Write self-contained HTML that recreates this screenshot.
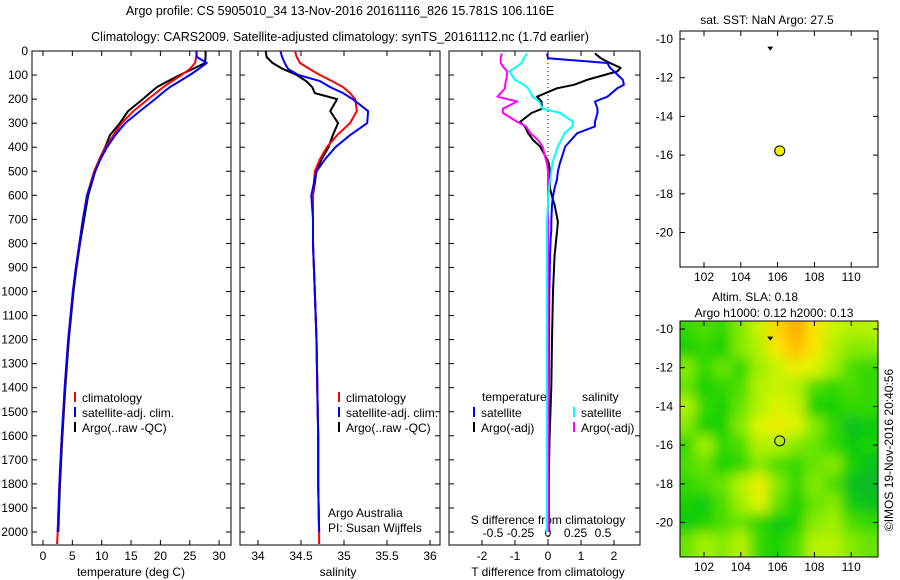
<!DOCTYPE html>
<html><head><meta charset="utf-8"><style>
body{margin:0;background:#fff}
svg{display:block;font-family:"Liberation Sans",sans-serif;font-size:12px}
</style></head><body>
<svg id="c" width="900" height="580" viewBox="0 0 900 580">
<text x="340" y="15" text-anchor="middle" font-size="12.5">Argo profile: CS 5905010_34 13-Nov-2016 20161116_826 15.781S 106.116E</text>
<text x="340" y="41" text-anchor="middle" font-size="12.5">Climatology: CARS2009. Satellite-adjusted climatology: synTS_20161112.nc (1.7d earlier)</text>
<g id="g"></g>
<text transform="translate(893,450) rotate(-90)" text-anchor="middle">©IMOS 19-Nov-2016 20:40:56</text>
</svg>
<script>
// ---- data ----
const depths=[0,25,50,75,100,125,150,175,200,250,300,350,400,450,500,600,700,800,900,1000,1200,1400,1600,1800,2000,2050];
const tempClim=[26.2,26.1,25.9,25,23.6,22,20.5,19.2,17.9,15.4,13.4,12,10.7,9.6,8.7,7.5,6.8,6.2,5.6,5.1,4.3,3.7,3.2,2.8,2.5,2.4];
const tempSat=[26.1,26.2,27.9,26.5,25,23.3,21.6,20.3,19.1,16.5,14,12.3,10.9,9.8,8.9,7.5,6.8,6.2,5.6,5.1,4.3,3.7,3.2,2.8,2.5,null];
const tempArgo=[27.7,27.7,27.6,25.5,23.3,21.3,19.4,18.2,17,14.5,13.1,11.4,10.6,9.6,8.9,7.7,7.0,6.3,5.7,5.2,4.4,3.8,3.3,2.9,2.6,null];
const salClim=[34.43,34.45,34.49,34.6,34.72,34.86,34.99,35.07,35.13,35.15,35.07,34.92,34.8,34.72,34.66,34.64,34.64,34.64,34.65,34.66,34.68,34.69,34.7,34.7,34.71,34.71];
const salSat=[34.26,34.28,34.31,34.35,34.47,34.72,34.84,34.99,35.1,35.28,35.27,35.07,34.9,34.78,34.68,34.62,34.64,34.64,34.65,34.66,34.68,34.69,34.7,34.7,34.71,null];
const salArgo=[34.09,34.1,34.17,34.29,34.45,34.56,34.63,34.66,34.92,34.84,34.93,34.87,34.82,34.74,34.68,34.64,34.64,34.64,34.65,34.66,34.68,34.69,34.7,34.7,34.71,null];
const diffDepths=[10,30,50,70,85,120,140,155,190,210,240,258,295,314,342,370,397,450,466,500,535,570,605,640,710,743,780,850,1000,1200,1400,1600,1800,2000];
const tDiffSat=[-0.03,0,1.8,1.88,2.0,2.27,2.3,2.1,1.8,1.42,1.5,1.5,1.42,1.42,0.88,0.7,0.52,0.4,0.36,0.3,0.27,0.2,0.15,0.12,0.1,0.1,0.08,0.06,0.04,0.03,0.02,0.02,0.02,0.02];
const tDiffArgo=[1.42,1.6,1.88,2.2,2.1,1.18,0.8,0.27,-0.33,-0.2,-0.18,-0.5,-0.85,-0.7,-0.6,-0.45,-0.24,-0.03,0.02,0.06,0.06,0.06,0.12,0.2,0.3,0.28,0.25,0.2,0.15,0.12,0.1,0.05,0.02,0.02];
const sDiffSat=[-0.19,-0.22,-0.24,-0.3,-0.35,-0.3,-0.22,-0.18,-0.14,-0.08,-0.05,0.11,0.23,0.22,0.15,0.12,0.09,0.05,0.04,0.03,0.02,0.01,0,0,-0.01,-0.01,-0.01,-0.01,-0.01,-0.01,-0.01,-0.01,-0.01,-0.01];
const sDiffArgo=[-0.42,-0.43,-0.43,-0.4,-0.37,-0.38,-0.39,-0.39,-0.46,-0.28,-0.41,-0.41,-0.28,-0.2,-0.16,-0.09,-0.05,-0.02,-0.01,0,0,0,0,0,0,0,0,0,0,0,0,0,0,0];
const depthTicks=[0,100,200,300,400,500,600,700,800,900,1000,1100,1200,1300,1400,1500,1600,1700,1800,1900,2000];
const tempTicks=[0,5,10,15,20,25,30];
const salTicks=[34,34.5,35,35.5,36];
const tDiffTicks=[-2,-1,0,1,2];
const sDiffTicks=[-0.5,-0.25,0,0.25,0.5];
const sDiffTickLabels=["-0.5","-0.25","0","0.25","0.5"];
const lonTicks=[102,104,106,108,110];
const latTicks=[-10,-12,-14,-16,-18,-20];
const floatPos=[106.116,-15.781];
const prevPos=[105.6,-10.5];
const slaLats=[-10,-11,-12,-13,-14,-15,-16,-17,-18,-19,-20,-21];
const slaLons=[101,102,103,104,105,106,107,108,109,110,111];
const sla=[
[0.35,0.4,0.35,0.5,0.65,0.85,0.95,0.8,0.65,0.6,0.6],
[0.3,0.35,0.3,0.5,0.6,0.8,0.9,0.8,0.6,0.5,0.5],
[0.5,0.35,0.45,0.35,0.55,0.65,0.75,0.7,0.55,0.4,0.35],
[0.45,0.3,0.35,0.4,0.6,0.65,0.6,0.4,0.35,0.4,0.35],
[0.6,0.35,0.3,0.45,0.6,0.7,0.65,0.3,0.3,0.35,0.35],
[0.5,0.3,0.3,0.5,0.7,0.75,0.7,0.5,0.35,0.2,0.25],
[0.35,0.55,0.35,0.4,0.6,0.6,0.5,0.45,0.35,0.25,0.3],
[0.4,0.45,0.3,0.35,0.5,0.4,0.35,0.45,0.5,0.3,0.2],
[0.35,0.4,0.45,0.6,0.75,0.5,0.35,0.5,0.4,0.2,0.15],
[0.3,0.25,0.4,0.55,0.7,0.45,0.3,0.45,0.5,0.25,0.2],
[0.25,0.3,0.4,0.45,0.35,0.25,0.3,0.5,0.55,0.4,0.35],
[0.45,0.55,0.5,0.6,0.35,0.3,0.4,0.6,0.6,0.5,0.45]];

// ---- helpers ----
const NS="http://www.w3.org/2000/svg", G=document.getElementById('g');
function el(t,a,p){const e=document.createElementNS(NS,t);for(const k in a)e.setAttribute(k,a[k]);(p||G).appendChild(e);return e;}
const yD=d=>51+d*0.2405;
const PY0=51,PY1=545;
const panels=[
 {x0:32,x1:231,f:v=>43+v*5.87,name:'temperature-panel'},
 {x0:240,x1:440,f:v=>258+(v-34)*86,name:'salinity-panel'},
 {x0:449,x1:640,f:v=>548+v*33,name:'tdiff-panel'}];
const fS=v=>548+v*110;

function line(xs,ds,fx,col,name,w){
 let pts=[];xs.forEach((v,i)=>{if(v!==null)pts.push(fx(v).toFixed(1)+','+yD(ds[i]).toFixed(1));});
 const p=el('polyline',{points:pts.join(' '),fill:'none',stroke:col,'stroke-width':w||2,'stroke-linejoin':'round'});
 
 
}

depthTicks.forEach(d=>{const t=el('text',{x:28,y:yD(d)+4,'text-anchor':'end'});t.textContent=d;
 
 });

panels.forEach((P,i)=>{
 const r=el('rect',{x:P.x0,y:PY0,width:P.x1-P.x0,height:PY1-PY0,fill:'none',stroke:'#000','stroke-width':1});
 
 
 depthTicks.forEach(d=>{el('line',{x1:P.x0,x2:P.x0+5,y1:yD(d),y2:yD(d),stroke:'#000'});el('line',{x1:P.x1-5,x2:P.x1,y1:yD(d),y2:yD(d),stroke:'#000'});});
});
function xt(P,ticks,f,labels,ly,name){
 ticks.forEach((v,i)=>{const x=f(v);
  el('line',{x1:x,x2:x,y1:PY1,y2:PY1-5,stroke:'#000'});el('line',{x1:x,x2:x,y1:PY0,y2:PY0+5,stroke:'#000'});
  const t=el('text',{x:x,y:ly,'text-anchor':'middle'});t.textContent=labels?labels[i]:v;
  
  });
}
xt(panels[0],tempTicks,panels[0].f,null,560,'temp-tick-label');
xt(panels[1],salTicks,panels[1].f,null,560,'salinity-tick-label');
xt(panels[2],tDiffTicks,panels[2].f,null,560,'tdiff-tick-label');
sDiffTicks.forEach((v,i)=>{const t=el('text',{x:fS(v),y:537,'text-anchor':'middle'});t.textContent=sDiffTickLabels[i];
 
 });
function txt(x,y,s,name,anchor,extra){const t=el('text',Object.assign({x:x,y:y,'text-anchor':anchor||'start'},extra||{}));t.textContent=s;
 
 return t;}
txt(131,576,'temperature (deg C)','temp-axis-title','middle');
txt(338,576,'salinity','salinity-axis-title','middle');
txt(548,576,'T difference from climatology','tdiff-axis-title','middle');
txt(548,524,'S difference from climatology','sdiff-axis-title','middle');
txt(328,517,'Argo Australia','institution-text');
txt(328,532,'PI: Susan Wijffels','pi-text');

el('line',{x1:548,x2:548,y1:PY0,y2:PY1,stroke:'#000','stroke-dasharray':'1,3'});

// profiles (argo first, then climatology, then satellite on top)
line(tempArgo,depths,panels[0].f,'#000','temp-argo-line');
line(tempClim,depths,panels[0].f,'#f00','temp-climatology-line');
line(tempSat,depths,panels[0].f,'#00f','temp-satellite-line');
line(salArgo,depths,panels[1].f,'#000','salinity-argo-line');
line(salClim,depths,panels[1].f,'#f00','salinity-climatology-line');
line(salSat,depths,panels[1].f,'#00f','salinity-satellite-line');
line(tDiffArgo,diffDepths,panels[2].f,'#000','tdiff-argo-line');
line(tDiffSat,diffDepths,panels[2].f,'#00f','tdiff-satellite-line');
line(sDiffArgo,diffDepths,fS,'#f0f','sdiff-argo-line');
line(sDiffSat,diffDepths,fS,'#0ff','sdiff-satellite-line');

function leg(x,y,col,s,name){el('line',{x1:x,x2:x,y1:y-6,y2:y+4,stroke:col,'stroke-width':2});txt(x+7,y+4,s,name);}
[['climatology','#f00'],['satellite-adj. clim.','#00f'],['Argo(..raw -QC)','#000']].forEach((a,i)=>leg(75,398+15*i,a[1],a[0],'legend-entry-temp'));
[['climatology','#f00'],['satellite-adj. clim.','#00f'],['Argo(..raw -QC)','#000']].forEach((a,i)=>leg(339,398+15*i,a[1],a[0],'legend-entry-salinity'));
txt(482,401,'temperature','legend-header-temperature');
txt(582,401,'salinity','legend-header-salinity');
leg(474,413,'#00f','satellite','legend-tdiff-satellite');
leg(474,428,'#000','Argo(-adj)','legend-tdiff-argo');
leg(574,413,'#0ff','satellite','legend-sdiff-satellite');
leg(574,428,'#f0f','Argo(-adj)','legend-sdiff-argo');

// ---- maps ----
const lonX=l=>704+(l-102)*18.4;
function mapPanel(y0,name,heat){
 const latY=l=>y0+8+(-10-l)*19.35;
 const X0=680,X1=878,Y1=y0+236;
 if(heat){
  const cp=el('clipPath',{id:'mc'});el('rect',{x:X0,y:y0,width:X1-X0,height:Y1-y0},cp);
  const fl=el('filter',{id:'bl',x:'-10%',y:'-10%',width:'120%',height:'120%'});el('feGaussianBlur',{stdDeviation:6},fl);
  const hg=el('g',{'clip-path':'url(#mc)'});
  const inner=el('g',{filter:'url(#bl)'},hg);
  function col(v){const stops=[[0,[0,160,80]],[0.3,[20,210,0]],[0.55,[160,240,0]],[0.7,[220,245,0]],[0.82,[255,225,0]],[1,[255,150,0]]];
   for(let i=1;i<stops.length;i++){if(v<=stops[i][0]){const a=stops[i-1],b=stops[i],t=(v-a[0])/(b[0]-a[0]);return 'rgb('+a[1].map((c,k)=>Math.round(c+(b[1][k]-c)*t)).join(',')+')';}}return 'rgb(255,150,0)';}
  sla.forEach((row,r)=>row.forEach((v,c)=>{
   let x=lonX(slaLons[c]-0.5),y=latY(slaLats[r]+0.5),w=18.6,h=19.6;
   if(c===0){x-=20;w+=20;} if(c===row.length-1){w+=20;}
   if(r===0){y-=20;h+=20;} if(r===sla.length-1){h+=20;}
   const cell=el('rect',{x:x,y:y,width:w,height:h,fill:col(v)},inner);
   
   
  }));
 }
 const fr=el('rect',{x:X0,y:y0,width:X1-X0,height:Y1-y0,fill:'none',stroke:'#000'});
 
 
 lonTicks.forEach(l=>{const x=lonX(l);el('line',{x1:x,x2:x,y1:y0,y2:y0+5,stroke:'#000'});el('line',{x1:x,x2:x,y1:Y1,y2:Y1-5,stroke:'#000'});
  txt(x,Y1+14,l,name+'-lon-label','middle');});
 latTicks.forEach(l=>{const y=latY(l);el('line',{x1:X0,x2:X0+5,y1:y,y2:y,stroke:'#000'});el('line',{x1:X1-5,x2:X1,y1:y,y2:y,stroke:'#000'});
  txt(673,y+4,l,name+'-lat-label','end');});
 const tri=el('polygon',{points:[lonX(prevPos[0])-3,latY(prevPos[1])-2,lonX(prevPos[0])+3,latY(prevPos[1])-2,lonX(prevPos[0]),latY(prevPos[1])+2].join(','),fill:'#000'});
 
 
 const c=el('circle',{cx:lonX(floatPos[0]),cy:latY(floatPos[1]),r:5,fill:heat?'none':'#ee0',stroke:'#000'});
 
 
}
mapPanel(31,'sst-map',false);
mapPanel(321,'sla-map',true);
txt(767,24,'sat. SST: NaN Argo: 27.5','sst-map-title','middle');
txt(755,301,'Altim. SLA: 0.18','sla-map-title','middle');
txt(774,317,'Argo h1000: 0.12 h2000: 0.13','sla-map-subtitle','middle');
</script>
</body></html>
